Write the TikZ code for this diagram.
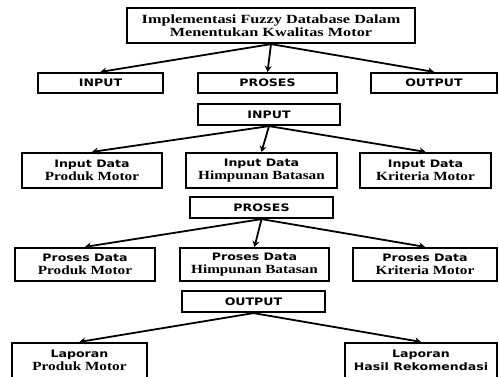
\documentclass[tikz,border=0pt]{standalone}
\usepackage{fontspec}
\setmainfont{Liberation Serif}[FakeStretch=1.22]
\newfontfamily\titleserif{Liberation Serif}[FakeStretch=1.3]
\newfontfamily\labelsans{DejaVu Sans}[FakeStretch=1.22]
\usetikzlibrary{arrows.meta}
\tikzset{
  box/.style={draw, line width=2.2pt, rectangle, inner sep=0pt, align=center, font=\bfseries\fontsize{12.5}{13}\selectfont},
  head/.style={box, font=\labelsans\bfseries\fontsize{10.3}{13}\selectfont},
  ttl/.style={box, font=\titleserif\bfseries\fontsize{12.5}{13.5}\selectfont},
  link/.style={line width=1.8pt, -{Stealth[length=6pt,width=7pt]}},
}
\newcommand{\sanstop}[1]{{\labelsans\bfseries\fontsize{10.3}{13}\selectfont #1}}
\newcommand{\serifbot}[1]{{\bfseries\fontsize{12.5}{13}\selectfont #1}}
\begin{document}
\begin{tikzpicture}[x=1pt,y=-1pt]
\useasboundingbox (0,0) rectangle (499,376);
% title
\node[ttl, minimum width=288pt, minimum height=35pt] (title) at (271,25.5)
  {Implementasi Fuzzy Database Dalam\\Menentukan Kwalitas Motor};
% first level
\node[head, minimum width=125pt, minimum height=20pt] (in1) at (100.5,83) {INPUT};
\node[head, minimum width=139pt, minimum height=20pt] (pr1) at (267.5,83) {PROSES};
\node[head, minimum width=126pt, minimum height=20pt] (out1) at (434,83) {OUTPUT};
\draw[link] (title.south) -- (in1.north);
\draw[link] (title.south) -- (pr1.north);
\draw[link] (title.south) -- (out1.north);
% input branch
\node[head, minimum width=142pt, minimum height=21pt] (in2) at (269,114.5) {INPUT};
\node[box, minimum width=140pt, minimum height=35pt] (id1) at (92,170.5)
  {\sanstop{Input Data}\\\serifbot{Produk Motor}};
\node[box, minimum width=151pt, minimum height=35pt] (id2) at (261.5,170.5)
  {\sanstop{Input Data}\\\serifbot{Himpunan Batasan}};
\node[box, minimum width=131pt, minimum height=35pt] (id3) at (425.5,170.5)
  {\sanstop{Input Data}\\\serifbot{Kriteria Motor}};
\draw[link] (in2.south) -- (id1.north);
\draw[link] (in2.south) -- (id2.north);
\draw[link] (in2.south) -- (id3.north);
% process branch
\node[head, minimum width=143pt, minimum height=21pt] (pr2) at (261.5,207.5) {PROSES};
\node[box, minimum width=140pt, minimum height=33pt] (pd1) at (85,264.5)
  {\sanstop{Proses Data}\\\serifbot{Produk Motor}};
\node[box, minimum width=149pt, minimum height=33pt] (pd2) at (254.5,264.5)
  {\sanstop{Proses Data}\\\serifbot{Himpunan Batasan}};
\node[box, minimum width=144pt, minimum height=33pt] (pd3) at (425,264.5)
  {\sanstop{Proses Data}\\\serifbot{Kriteria Motor}};
\draw[link] (pr2.south) -- (pd1.north);
\draw[link] (pr2.south) -- (pd2.north);
\draw[link] (pr2.south) -- (pd3.north);
% output branch
\node[head, minimum width=143pt, minimum height=21pt] (out2) at (253.5,301.5) {OUTPUT};
\node[box, minimum width=135pt, minimum height=35pt] (lp1) at (79.5,360.5)
  {\sanstop{Laporan}\\\serifbot{Produk Motor}};
\node[box, minimum width=152pt, minimum height=35pt] (lp2) at (421,360.5)
  {\sanstop{Laporan}\\\sanstop{Hasil Rekomendasi}};
\draw[link] (out2.south) -- (lp1.north);
\draw[link] (out2.south) -- (lp2.north);
\end{tikzpicture}
\end{document}
